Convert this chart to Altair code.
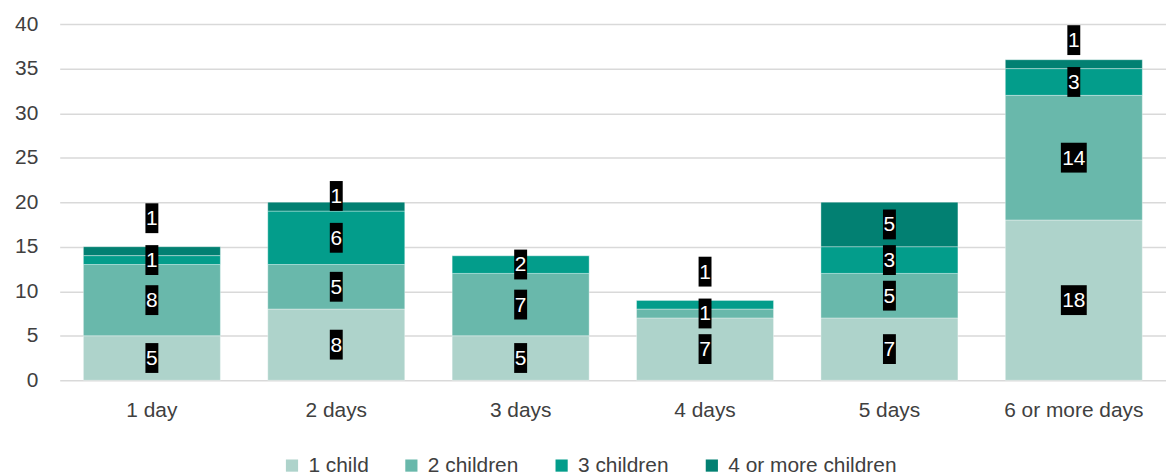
import altair as alt
import pandas as pd

categories = ["1 day", "2 days", "3 days", "4 days", "5 days", "6 or more days"]
series = ["1 child", "2 children", "3 children", "4 or more children"]
one_child = [5, 8, 5, 7, 7, 18]
two_children = [8, 5, 7, 1, 5, 14]
three_children = [1, 6, 2, 1, 3, 3]
four_plus = [1, 1, 0, 0, 5, 1]
colors = ["#AED3CB", "#69B8AB", "#039D8B", "#028072"]

FONT = "Liberation Sans"

rows = []
labels = []
for i, cat in enumerate(categories):
    base = 0
    prev = None
    for j, vals in enumerate([one_child, two_children, three_children, four_plus]):
        v = vals[i]
        rows.append(dict(cat=cat, series=series[j], value=v, order=j))
        if v > 0:
            mid = base + v / 2
            # simple label collision avoidance (push up)
            if prev is not None and mid - prev < 3.6:
                mid = prev + 4.7
            labels.append(dict(cat=cat, series=series[j], value=v, pos=mid))
            prev = mid
        base += v

bars_df = pd.DataFrame(rows)
labels_df = pd.DataFrame(labels)

x_axis = alt.Axis(
    title=None, labelAngle=0, domain=False, ticks=False,
    labelFontSize=21, labelColor="#404040", labelFont=FONT, labelPadding=19,
)
x_enc = alt.X(
    "cat:N",
    sort=categories,
    scale=alt.Scale(paddingInner=0.257, paddingOuter=0.1285),
    axis=x_axis,
)
y_axis = alt.Axis(
    title=None, values=list(range(0, 45, 5)), domain=False, ticks=False,
    gridColor="#D9D9D9", gridWidth=1.5, labelFontSize=21, labelColor="#404040",
    labelFont=FONT, labelPadding=22,
)
y_scale = alt.Scale(domain=[0, 40], nice=False)

bars = alt.Chart(bars_df).mark_bar(stroke="white", strokeWidth=0.6, strokeOpacity=0.6).encode(
    x=x_enc,
    y=alt.Y("value:Q", stack="zero", scale=y_scale, axis=y_axis),
    color=alt.Color(
        "series:N",
        sort=series,
        scale=alt.Scale(domain=series, range=colors),
        legend=alt.Legend(
            title=None, orient="none", legendX=223, legendY=433, direction="horizontal",
            symbolType="square", symbolSize=150, symbolStrokeWidth=0, labelFontSize=21,
            labelFont=FONT, labelColor="#404040", columnPadding=32, labelOffset=6,
            labelLimit=0,
        ),
    ),
    order=alt.Order("order:Q", sort="ascending"),
)

y_lab = alt.Y("pos:Q", scale=y_scale, axis=y_axis)

narrow = "M-0.433,-1L0.433,-1L0.433,1L-0.433,1Z"
wide = "M-0.867,-1L0.867,-1L0.867,1L-0.867,1Z"

box1 = alt.Chart(labels_df).transform_filter("datum.value < 10").mark_point(
    shape=narrow, filled=True, color="black", opacity=1, size=900, strokeWidth=0
).encode(x=x_enc, y=y_lab)

box2 = alt.Chart(labels_df).transform_filter("datum.value >= 10").mark_point(
    shape=wide, filled=True, color="black", opacity=1, size=900, strokeWidth=0
).encode(x=x_enc, y=y_lab)

text = alt.Chart(labels_df).mark_text(
    color="white", fontSize=21, font=FONT, baseline="middle", align="center", dy=1
).encode(x=x_enc, y=y_lab, text="value:Q")

chart = (
    alt.layer(bars, box1, box2, text)
    .properties(width=1112, height=358, padding={"left": 14, "top": 12, "right": 0, "bottom": 0})
    .configure_view(stroke=None)
)

chart.save("out.html", embed_options={"renderer": "svg", "actions": False})
